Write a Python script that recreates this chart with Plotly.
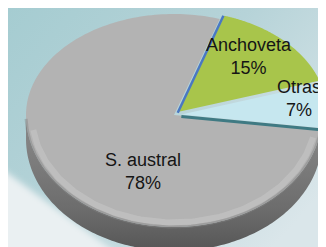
import numpy as np
import plotly.graph_objects as go
import base64

# ---- data ----
labels = ["Anchoveta", "Otras", "S. austral"]
values = [15, 7, 78]
pct_text = ["15%", "7%", "78%"]

# ---- geometry / style ----
W, H = 326, 247
cx, cy = 166, 107
rx = 148
ry_top, ry_bot = 101, 112   # slight perspective: front half looks deeper
depth = 24
start_deg = 72.0
explode = [0.045, 0.05, 0.0]
top_colors = ["#a8c54b", "#c6e7ef", "#b3b3b3"]

total = float(sum(values))
spans = [v / total * 360.0 for v in values]
edges = [start_deg]
for s in spans:
    edges.append(edges[-1] - s)   # clockwise


def pt(theta_deg, ox=0.0, oy=0.0, scale=1.0, dz=0.0):
    t = np.radians(np.asarray(theta_deg, dtype=float))
    s = np.sin(t)
    ry = np.where(s >= 0, ry_top, ry_bot)
    return cx + ox + scale * rx * np.cos(t), cy + oy - scale * ry * s + dz


def offset(i):
    mid = np.radians((edges[i] + edges[i + 1]) / 2)
    return explode[i] * rx * np.cos(mid), -explode[i] * ry_top * np.sin(mid)


def arc(a0, a1, ox=0.0, oy=0.0, dz=0.0, n=80, scale=1.0):
    th = np.linspace(a0, a1, n)
    xs, ys = pt(th, ox, oy, scale, dz)
    return list(xs), list(ys)


fig = go.Figure()

# --- Otras outer side ---
i_o = labels.index("Otras")
ox, oy = offset(i_o)
a_lo = edges[i_o + 1]
xs_t, ys_t = arc(a_lo, 2, ox, oy)
xs_b, ys_b = arc(2, a_lo, ox, oy, dz=depth)
fig.add_trace(go.Scatter(
    x=xs_t + xs_b, y=ys_t + ys_b, fill="toself", mode="none",
    fillcolor="#4b8992", hoverinfo="skip", showlegend=False))

# --- S. austral side ---
i_g = labels.index("S. austral")
g_end = 360 + edges[i_g]
xs_t, ys_t = arc(180, g_end, n=160)
xs_b, ys_b = arc(g_end, 180, dz=depth, n=160)
fig.add_trace(go.Scatter(
    x=xs_t + xs_b, y=ys_t + ys_b, fill="toself", mode="none",
    fillgradient=dict(type="vertical", start=cy, stop=cy + ry_bot + depth,
                      colorscale=[[0, "#8c8c8c"], [0.7, "#6c6c6c"], [1, "#565656"]]),
    hoverinfo="skip", showlegend=False))

# --- top faces ---
for i in range(len(values)):
    ox, oy = offset(i)
    xs, ys = arc(edges[i], edges[i + 1], ox, oy, n=200)
    fig.add_trace(go.Scatter(
        x=[cx + ox] + xs + [cx + ox], y=[cy + oy] + ys + [cy + oy],
        fill="toself", mode="none", fillcolor=top_colors[i],
        hoverinfo="skip", showlegend=False))

# soft bevel on the gray top face
xs, ys = arc(188, 348, n=160, scale=0.96)
fig.add_trace(go.Scatter(x=xs, y=ys, mode="lines",
                         line=dict(color="rgba(205,205,205,0.45)", width=6),
                         hoverinfo="skip", showlegend=False))
xs, ys = arc(182, 353, n=160, scale=1.0)
fig.add_trace(go.Scatter(x=xs, y=ys, mode="lines",
                         line=dict(color="rgba(130,130,130,0.45)", width=3),
                         hoverinfo="skip", showlegend=False))

# dark cut edge under Otras
ox, oy = offset(i_o)
px1, py1 = pt(a_lo, ox, oy)
fig.add_trace(go.Scatter(x=[cx + ox, float(px1)], y=[cy + oy + 2, float(py1) + 2], mode="lines",
                         line=dict(color="#3f7a83", width=3),
                         hoverinfo="skip", showlegend=False))

# blue edge on the Anchoveta slice
i_a = labels.index("Anchoveta")
ox, oy = offset(i_a)
bx, by = pt(edges[i_a], ox, oy)
fig.add_trace(go.Scatter(x=[cx + ox - 1, float(bx) - 1], y=[cy + oy + 1, float(by)], mode="lines",
                         line=dict(color="#4a78c2", width=2.5),
                         hoverinfo="skip", showlegend=False))

# --- labels ---
label_pos = {"Anchoveta": (241, 48), "Otras": (291, 90), "S. austral": (135, 163)}
for lab, pc in zip(labels, pct_text):
    x, y = label_pos[lab]
    fig.add_annotation(x=x, y=y, xref="x", yref="y", text=f"{lab}<br>{pc}",
                       showarrow=False, align="center",
                       font=dict(family="Liberation Sans, Arial, sans-serif", size=18,
                                 color="#151515"))

# --- background ---
svg = f"""<svg xmlns='http://www.w3.org/2000/svg' width='{W}' height='{H}'>
<defs>
<linearGradient id='g' x1='0' y1='0' x2='1' y2='0.7'>
<stop offset='0' stop-color='#a5ccd1'/>
<stop offset='0.5' stop-color='#b6d3d8'/>
<stop offset='1' stop-color='#dae6ea'/>
</linearGradient>
<filter id='b'><feGaussianBlur stdDeviation='3'/></filter>
</defs>
<rect width='{W}' height='{H}' fill='url(#g)'/>
<polygon points='-10,158 118,252 -10,252' fill='#eaf0f2' filter='url(#b)'/>
</svg>"""
src = "data:image/svg+xml;base64," + base64.b64encode(svg.encode()).decode()
fig.add_layout_image(dict(source=src, xref="paper", yref="paper", x=0, y=1,
                          sizex=1, sizey=1, sizing="stretch", layer="below",
                          xanchor="left", yanchor="top"))

fig.update_layout(
    width=W, height=H, margin=dict(l=0, r=0, t=0, b=0),
    paper_bgcolor="#b9d5da", plot_bgcolor="rgba(0,0,0,0)",
    xaxis=dict(range=[0, W], visible=False, fixedrange=True),
    yaxis=dict(range=[H, 0], visible=False, fixedrange=True),
    showlegend=False,
)
fig.write_html("out.html")
